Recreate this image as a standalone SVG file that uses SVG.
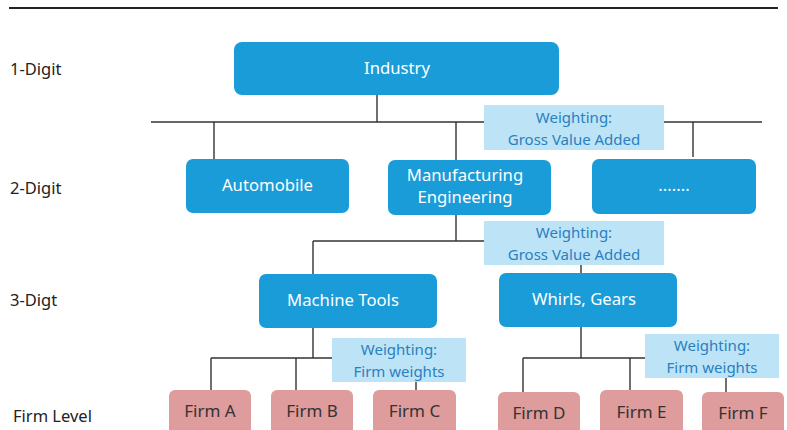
<svg xmlns="http://www.w3.org/2000/svg" width="787" height="430" viewBox="0 0 787 430">
<style>
text{font-family:"Source Sans Pro","Noto Sans","Open Sans","Liberation Sans",sans-serif;}
.lvl{font-size:16.5px;fill:#222;}
.n rect{fill:#1a9cd8;}
.n text{fill:#fff;font-size:16.7px;text-anchor:middle;}
.w rect{fill:#bce4f6;}
.w text{fill:#2a7fc1;font-size:15px;text-anchor:middle;}
.f rect{fill:#de9c9c;}
.f text{fill:#333;font-size:17px;text-anchor:middle;}
.c line{stroke:#333;stroke-width:1.4;}
</style>
<rect width="787" height="430" fill="#fff"/>
<line x1="9" y1="8" x2="778" y2="8" stroke="#222" stroke-width="2"/>
<text class="lvl" x="10" y="75">1-Digit</text>
<text class="lvl" x="10" y="194">2-Digit</text>
<text class="lvl" x="10" y="306">3-Digt</text>
<text class="lvl" x="13" y="422">Firm Level</text>
<g id="connectors" class="c">
<line x1="377" y1="95" x2="377" y2="122"/>
<line x1="151" y1="122" x2="762" y2="122"/>
<line x1="214" y1="122" x2="214" y2="159"/>
<line x1="456" y1="122" x2="456" y2="160"/>
<line x1="693" y1="122" x2="693" y2="157"/>
<line x1="456" y1="215" x2="456" y2="241"/>
<line x1="313" y1="241" x2="484" y2="241"/>
<line x1="313" y1="241" x2="313" y2="274"/>
<line x1="581" y1="265" x2="581" y2="273"/>
<line x1="313" y1="328" x2="313" y2="358"/>
<line x1="211" y1="358" x2="332" y2="358"/>
<line x1="211" y1="358" x2="211" y2="390"/>
<line x1="296" y1="358" x2="296" y2="390"/>
<line x1="416" y1="382" x2="416" y2="390"/>
<line x1="581" y1="327" x2="581" y2="358"/>
<line x1="523" y1="358" x2="645" y2="358"/>
<line x1="523" y1="358" x2="523" y2="392"/>
<line x1="630" y1="358" x2="630" y2="391"/>
<line x1="726" y1="378" x2="726" y2="392"/>
</g>
<g id="industry" class="n"><rect x="234" y="42" width="325" height="53" rx="8"/><text x="397" y="74">Industry</text></g>
<g id="weight1" class="w"><rect x="484" y="105" width="180" height="45"/><text x="574" y="123">Weighting:</text><text x="574" y="145">Gross Value Added</text></g>
<g id="automobile" class="n"><rect x="186" y="159" width="163" height="54" rx="7"/><text x="267.5" y="191">Automobile</text></g>
<g id="manufacturing" class="n"><rect x="388" y="160" width="163" height="55" rx="7"/><text x="465" y="181">Manufacturing</text><text x="465" y="203">Engineering</text></g>
<g id="others" class="n"><rect x="592" y="159" width="164" height="55" rx="7"/><text x="674" y="191">.......</text></g>
<g id="weight2" class="w"><rect x="484" y="221" width="180" height="44"/><text x="574" y="238">Weighting:</text><text x="574" y="260">Gross Value Added</text></g>
<g id="machine" class="n"><rect x="259" y="274" width="178" height="54" rx="7"/><text x="343" y="306">Machine Tools</text></g>
<g id="whirls" class="n"><rect x="499" y="273" width="178" height="54" rx="7"/><text x="584" y="305">Whirls, Gears</text></g>
<g id="weight3" class="w"><rect x="332" y="338" width="134" height="44"/><text x="399" y="355">Weighting:</text><text x="399" y="377">Firm weights</text></g>
<g id="weight4" class="w"><rect x="645" y="334" width="134" height="44"/><text x="712" y="351">Weighting:</text><text x="712" y="373">Firm weights</text></g>
<g id="firmA" class="f"><rect x="169" y="390" width="82" height="50" rx="6"/><text x="210" y="417">Firm A</text></g>
<g id="firmB" class="f"><rect x="271" y="390" width="82" height="50" rx="6"/><text x="312" y="417">Firm B</text></g>
<g id="firmC" class="f"><rect x="373" y="390" width="83" height="50" rx="6"/><text x="414.5" y="417">Firm C</text></g>
<g id="firmD" class="f"><rect x="498" y="392" width="82" height="50" rx="6"/><text x="539" y="419">Firm D</text></g>
<g id="firmE" class="f"><rect x="600" y="390" width="83" height="50" rx="6"/><text x="641.5" y="418">Firm E</text></g>
<g id="firmF" class="f"><rect x="702" y="392" width="82" height="50" rx="6"/><text x="743" y="419">Firm F</text></g>
</svg>
